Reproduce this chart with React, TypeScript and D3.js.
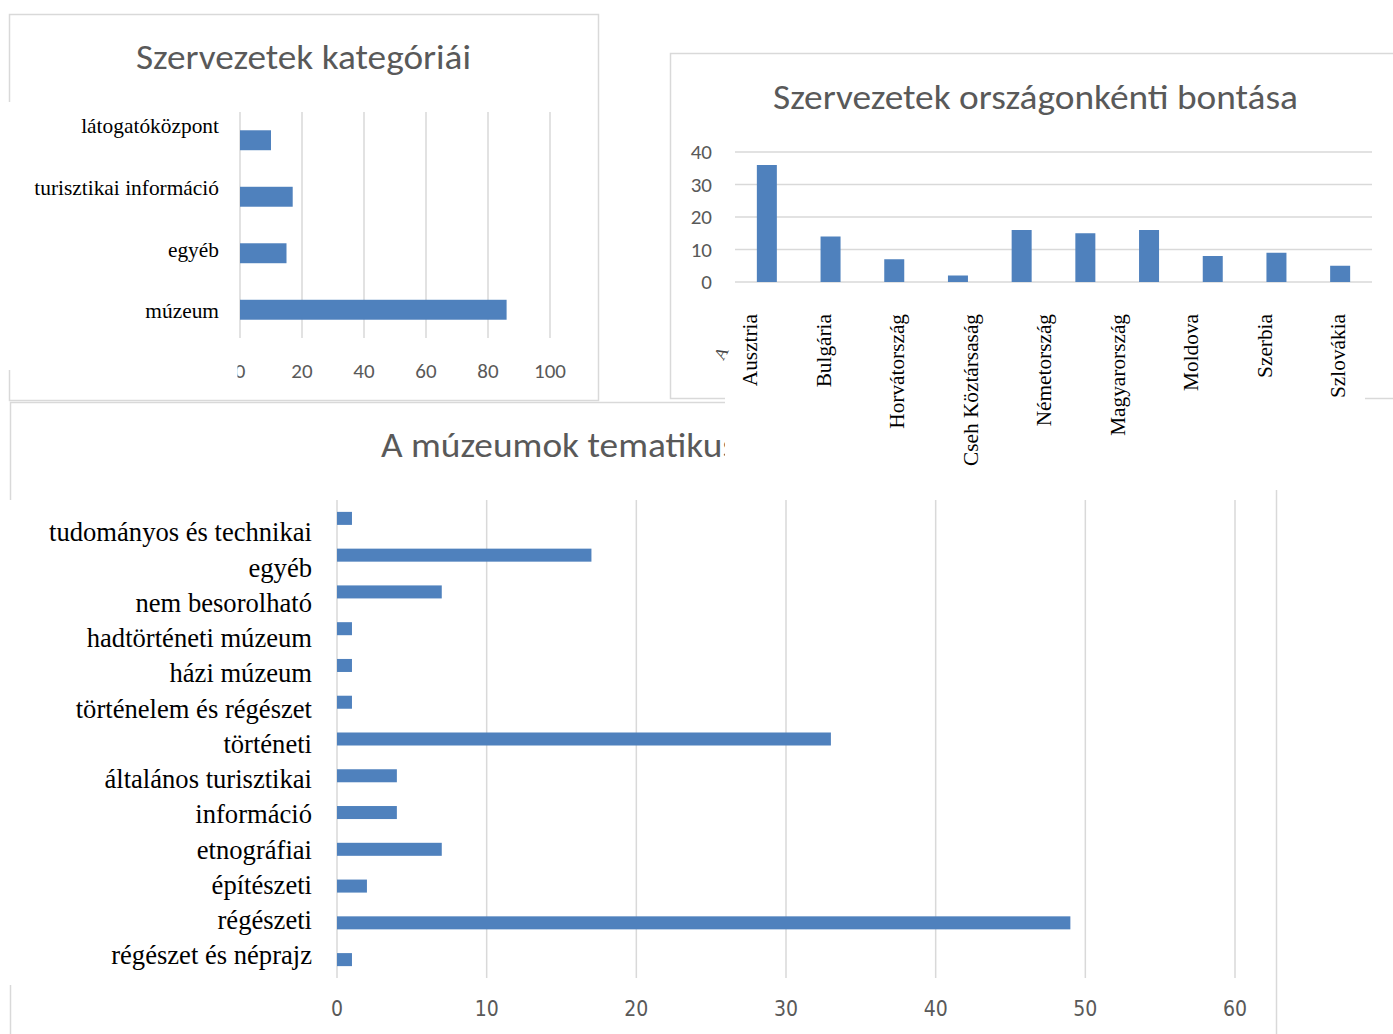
import * as d3 from 'd3'

// Szervezetek kategóriái
const categoryLabels = ['látogatóközpont', 'turisztikai információ', 'egyéb', 'múzeum']
const categoryValues = [10, 17, 15, 86]
const categoryTicks = [0, 20, 40, 60, 80, 100]

// Szervezetek országonkénti bontása
const countryLabels = ['Ausztria', 'Bulgária', 'Horvátország', 'Cseh Köztársaság', 'Németország', 'Magyarország', 'Moldova', 'Szerbia', 'Szlovákia']
const countryValues = [36, 14, 7, 2, 16, 15, 16, 8, 9, 5]
const countryTicks = [0, 10, 20, 30, 40]

// A múzeumok tematikus ...
const themeLabels = [
  'tudományos és technikai', 'egyéb', 'nem besorolható', 'hadtörténeti múzeum', 'házi múzeum',
  'történelem és régészet', 'történeti', 'általános turisztikai', 'információ', 'etnográfiai',
  'építészeti', 'régészeti', 'régészet és néprajz',
]
const themeValues = [1, 17, 7, 1, 1, 1, 33, 4, 4, 7, 2, 49, 1]
const themeTicks = [0, 10, 20, 30, 40, 50, 60]

const BLUE = '#4f81bd'
const GRID = '#d9d9d9'
const GRAY = '#595959'
const SANS = "Carlito, 'Open Sans', sans-serif"
const SERIF = "'Liberation Serif', 'Times New Roman', serif"
const NARROW = "'Liberation Sans Narrow', 'DejaVu Sans Condensed', 'Open Sans', sans-serif"

function CategoryPanel() {
  const x = d3.scaleLinear().domain([0, 100]).range([240, 550])
  const y = d3.scaleBand().domain(categoryLabels).range([112, 338]).paddingInner(0.647).paddingOuter(0.3235)
  const yLabel = d3.scalePoint().domain(categoryLabels).range([126, 311])
  return (
    <g>
      <rect x={9.5} y={14.5} width={589} height={386} fill="#fff" stroke={GRID} strokeWidth={1.5} />
      <text x={303.5} y={69} textAnchor="middle" fontFamily={SANS} fontSize={34} fill={GRAY}
        textLength={335} lengthAdjust="spacingAndGlyphs">Szervezetek kategóriái</text>
      {categoryTicks.map(t => (
        <line key={t} x1={x(t)} x2={x(t)} y1={112} y2={338} stroke={GRID} strokeWidth={1.5} />
      ))}
      {categoryLabels.map((c, i) => (
        <rect key={c} x={x(0)} y={y(c)} width={x(categoryValues[i]) - x(0)} height={y.bandwidth()} fill={BLUE} />
      ))}
      {/* pasted label block hides the left border */}
      <rect x={0} y={102} width={237.5} height={268} fill="#fff" />
      {categoryLabels.map(c => (
        <text key={c} x={219} y={yLabel(c)} dy="0.35em" textAnchor="end" fontFamily={SERIF} fontSize={21.4} fill="#000">{c}</text>
      ))}
      <g clipPath="url(#clipZero)">
        {categoryTicks.map(t => (
          <text key={t} x={x(t)} y={378} textAnchor="middle" fontFamily={SANS} fontSize={21} fill={GRAY}>{t}</text>
        ))}
      </g>
    </g>
  )
}

function CountryPanel() {
  const idx = countryValues.map((_, i) => i)
  const x = d3.scaleBand<number>().domain(idx).range([735, 1372]).paddingInner(0.686).paddingOuter(0.343)
  const y = d3.scaleLinear().domain([0, 40]).range([282, 152])
  const xLabel = d3.scalePoint().domain(countryLabels).range([750, 1338])
  return (
    <g>
      <rect x={670.5} y={53.5} width={800} height={345} fill="#fff" stroke={GRID} strokeWidth={1.5} />
      <text x={1035.5} y={109} textAnchor="middle" fontFamily={SANS} fontSize={34} fill={GRAY}
        textLength={525} lengthAdjust="spacingAndGlyphs">Szervezetek országonkénti bontása</text>
      {countryTicks.map(t => (
        <g key={t}>
          <line x1={735} x2={1372} y1={y(t)} y2={y(t)} stroke={GRID} strokeWidth={1.5} />
          <text x={712} y={y(t)} dy="0.35em" textAnchor="end" fontFamily={SANS} fontSize={21} fill={GRAY}>{t}</text>
        </g>
      ))}
      {idx.map(i => (
        <rect key={i} x={x(i)} y={y(countryValues[i])} width={x.bandwidth()} height={y(0) - y(countryValues[i])} fill={BLUE} />
      ))}
      {/* pasted label block, also covering the chart below */}
      <rect x={725} y={290} width={640} height={200} fill="#fff" />
      <text x={721} y={353} textAnchor="middle" dy="0.35em" fontFamily={SERIF} fontSize={17} fill="#444"
        transform="rotate(-62 721 353)">A</text>
      {countryLabels.map(c => (
        <text key={c} transform={`translate(${xLabel(c)},314) rotate(-90)`} dy="0.33em" textAnchor="end"
          fontFamily={SERIF} fontSize={21.3} fill="#000">{c}</text>
      ))}
    </g>
  )
}

function ThemePanel() {
  const x = d3.scaleLinear().domain([0, 60]).range([337, 1235])
  const y = d3.scaleBand().domain(themeLabels).range([500, 978]).paddingInner(0.646).paddingOuter(0.323)
  const yLabel = d3.scalePoint().domain(themeLabels).range([532, 955])
  return (
    <g>
      <rect x={10.5} y={402.5} width={1266} height={700} fill="#fff" stroke={GRID} strokeWidth={1.5} />
      <g clipPath="url(#clipTitle)">
        <text x={381} y={457} fontFamily={SANS} fontSize={34} fill={GRAY}
          textLength={356} lengthAdjust="spacingAndGlyphs">A múzeumok tematikus</text>
      </g>
      {themeTicks.map(t => (
        <g key={t}>
          <line x1={x(t)} x2={x(t)} y1={500} y2={978} stroke={GRID} strokeWidth={1.5} />
          <text x={x(t)} y={1016} textAnchor="middle" fontFamily={NARROW} fontSize={21} fill={GRAY}>{t}</text>
        </g>
      ))}
      {themeLabels.map((c, i) => (
        <rect key={c} x={x(0)} y={y(c)} width={x(themeValues[i]) - x(0)} height={y.bandwidth()} fill={BLUE} />
      ))}
      {/* pasted label block hides the left border */}
      <rect x={0} y={500} width={330} height={485} fill="#fff" />
      {themeLabels.map(c => (
        <text key={c} x={312} y={yLabel(c)} dy="0.35em" textAnchor="end" fontFamily={SERIF} fontSize={26.6} fill="#000">{c}</text>
      ))}
    </g>
  )
}

export default function App() {
  return (
    <svg width={1393} height={1034} style={{ position: 'absolute', left: 0, top: 0, background: '#fff' }}>
      <defs>
        <clipPath id="clipZero"><rect x={237.5} y={340} width={400} height={60} /></clipPath>
        <clipPath id="clipTitle"><rect x={0} y={400} width={727} height={100} /></clipPath>
      </defs>
      <rect x={0} y={0} width={1393} height={1034} fill="#fff" />
      <CategoryPanel />
      <ThemePanel />
      <CountryPanel />
    </svg>
  )
}
